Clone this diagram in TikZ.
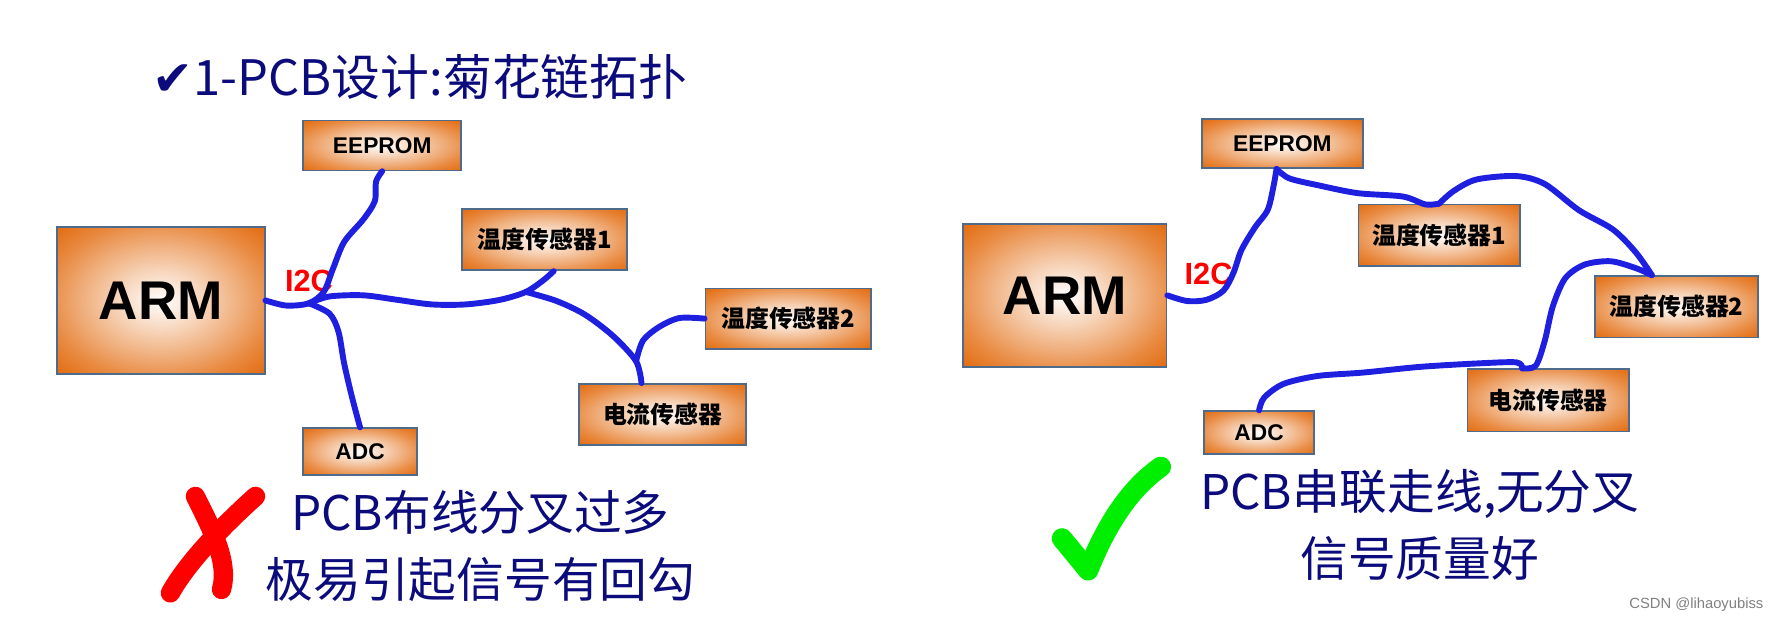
\documentclass[tikz,border=0pt]{standalone}
\usepackage{fontspec}
\setmainfont{Liberation Sans}
\newfontfamily\cjk{Noto Sans CJK SC}
\newfontfamily\symb{DejaVu Sans}
\usetikzlibrary{positioning}

\definecolor{boxorange}{HTML}{E36D12}
\definecolor{boxline}{HTML}{4F6B8C}
\definecolor{wireblue}{HTML}{1F1FE0}
\definecolor{textnavy}{HTML}{0B0B7C}
\definecolor{checkgreen}{HTML}{00EE00}
\pgfdeclareradialshading{chipglow}{\pgfpoint{0bp}{0bp}}{color(0bp)=(white); color(10bp)=(boxorange!28!white); color(20bp)=(boxorange!58!white); color(27bp)=(boxorange!80!white); color(35bp)=(boxorange); color(50bp)=(boxorange)}

\tikzset{
  chip/.style={draw=boxline, line width=1.5pt, shading=chipglow, inner sep=0pt, font=\cjk\bfseries\fontsize{21}{21}\selectfont},
  wire/.style={draw=wireblue, line width=5.2pt, line cap=round, line join=round},
  bus/.style={text=red, font=\bfseries\fontsize{27}{27}\selectfont},
  remark/.style={text=textnavy, align=center, font=\cjk\fontsize{42}{59}\selectfont}
}

\begin{document}
\begin{tikzpicture}[x=1pt,y=-1pt]
\useasboundingbox (0,0) rectangle (1568,550);
\node[text=textnavy, anchor=west, font=\cjk\fontsize{43}{43}\selectfont] (title) at (131,68) {{\symb ✔}1-PCB设计:菊花链拓扑};

% left: daisy chain with branches
\node[chip, minimum width=183pt, minimum height=129pt, font=\bfseries\fontsize{48}{48}\selectfont] (lArm) at (141.5,264.5) {ARM};
\node[chip, minimum width=139pt, minimum height=44pt, font=\bfseries\fontsize{20}{20}\selectfont] (lEeprom) at (336.5,128) {EEPROM};
\node[chip, minimum width=145pt, minimum height=54pt] (lT1) at (479.5,211) {温度传感器1};
\node[chip, minimum width=146pt, minimum height=53pt] (lT2) at (694,280.5) {温度传感器2};
\node[chip, minimum width=147pt, minimum height=54pt] (lCur) at (583.5,365) {电流传感器};
\node[chip, minimum width=100pt, minimum height=41pt, font=\bfseries\fontsize{20}{20}\selectfont] (lAdc) at (317,397.5) {ADC};
\node[bus] (lI2c) at (272,247) {I2C};
\coordinate (lJa) at (272,267);
\coordinate (lJb) at (463,257);
\coordinate (lJc) at (560,318);
\draw[wire] plot[smooth] coordinates {(lArm.east) (252,269) (lJa) (285,257) (293,237) (303,213) (320,193) (330,177) (331,160) (lEeprom.south)};
\draw[wire] plot[smooth] coordinates {(lJa) (290,261) (320,260) (350,264) (380,268) (410,268) (440,264) (lJb) (478,247) (lT1.-74)};
\draw[wire] plot[smooth] coordinates {(lJb) (490,265) (515,277) (540,296) (lJc) (lCur.124)};
\draw[wire] plot[smooth] coordinates {(lJc) (566,300) (580,288) (598,280) (lT2.west)};
\draw[wire] plot[smooth] coordinates {(lJa) (290,276) (298,292) (303,320) (310,350) (lAdc.north)};

% right: one serial chain
\node[chip, minimum width=179pt, minimum height=126pt, font=\bfseries\fontsize{48}{48}\selectfont] (rArm) at (937.5,260) {ARM};
\node[chip, minimum width=142pt, minimum height=43pt, font=\bfseries\fontsize{20}{20}\selectfont] (rEeprom) at (1129,126.5) {EEPROM};
\node[chip, minimum width=142pt, minimum height=54pt] (rT1) at (1267,207) {温度传感器1};
\node[chip, minimum width=144pt, minimum height=54pt] (rT2) at (1476,270) {温度传感器2};
\node[chip, minimum width=142pt, minimum height=55pt] (rCur) at (1363,352.5) {电流传感器};
\node[chip, minimum width=97pt, minimum height=38pt, font=\bfseries\fontsize{20}{20}\selectfont] (rAdc) at (1108.5,381) {ADC};
\node[bus] (rI2c) at (1064,241) {I2C};
\draw[wire] plot[smooth] coordinates {(rArm.east) (1045,265) (1062,264) (1077,256) (1086,240) (1093,220) (1105,200) (1116,185) (1121,165) (rEeprom.-103)};
\draw[wire] plot[smooth] coordinates {(rEeprom.-103) (1135,157) (1160,163) (1195,170) (1235,173) (1255,180) (rT1.north)};
\draw[wire] plot[smooth] coordinates {(rT1.north) (1280,168) (1300,158) (1335,155) (1360,162) (1390,185) (1420,202) (1440,222) (rT2.128)};
\draw[wire] plot[smooth] coordinates {(rT2.128) (1440,236) (1418,230) (1395,233) (1378,245) (1367,270) (1360,300) (1352,322) (rCur.129)};
\draw[wire] plot[smooth] coordinates {(rCur.129) (1335,319) (1300,320) (1250,323) (1200,328) (1160,331) (1130,338) (1113,350) (rAdc.north)};

% verdicts
\draw[red, line width=17pt, line cap=round] (172,437) .. controls (186,465) and (202,495) .. (195,519);
\draw[red, line width=17pt, line cap=round] (225,437) .. controls (205,455) and (168,490) .. (150,522);
\node[remark] (lNote) at (423,481) {PCB布线分叉过多\\极易引起信号有回勾};
\draw[checkgreen, line width=18pt, line cap=round, line join=round] (935,474) -- (958,502) .. controls (975,460) and (995,430) .. (1022,411);
\node[remark] (rNote) at (1250,462) {PCB串联走线,无分叉\\信号质量好};
\node[text=gray, anchor=east, font=\fontsize{13}{13}\selectfont] (mark) at (1556,532) {CSDN @lihaoyubiss};
\end{tikzpicture}
\end{document}
